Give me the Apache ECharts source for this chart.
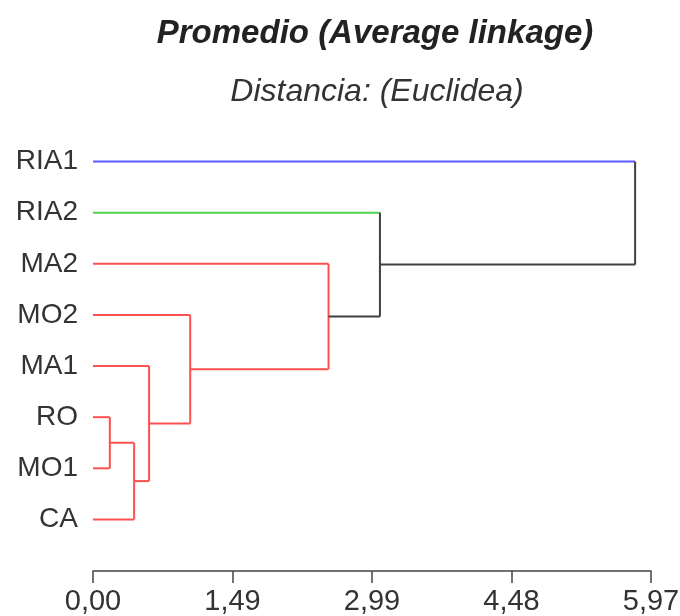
<!DOCTYPE html>
<html>
<head>
<meta charset="utf-8">
<script src="https://cdn.jsdelivr.net/npm/echarts@6/dist/echarts.min.js"></script>
<style>
  html, body { margin: 0; padding: 0; background: #fff; }
  #chart { width: 680px; height: 616px; }
</style>
</head>
<body>
<div id="chart"></div>
<script>
// hojas del dendrograma (de arriba a abajo)
var leaves = ['RIA1', 'RIA2', 'MA2', 'MO2', 'MA1', 'RO', 'MO1', 'CA']
var leafColors = ['#5a5aff', '#4cd44c', '#ff5050', '#ff5050', '#ff5050', '#ff5050', '#ff5050', '#ff5050']
// uniones: [hijo A, hijo B] (ids: hojas 0-7, uniones 8...)
var mergeChildren = [[5, 6], [8, 7], [4, 9], [3, 10], [2, 11], [1, 12], [0, 13]]
var mergeHeights = [0.18, 0.44, 0.60, 1.04, 2.52, 3.07, 5.80]
var mergeColors = ['#ff5050', '#ff5050', '#ff5050', '#ff5050', '#ff5050', '#404040', '#404040']
var xTickLabels = ['0,00', '1,49', '2,99', '4,48', '5,97']
var xMax = 5.97

var chart = echarts.init(document.getElementById('chart'))
var nLeaves = leaves.length

function nodeY(id, api) {
  if (id < nLeaves) return api.coord([0, id])[1]
  var ch = mergeChildren[id - nLeaves]
  return (nodeY(ch[0], api) + nodeY(ch[1], api)) / 2
}
function nodeH(id) {
  return id < nLeaves ? 0 : mergeHeights[id - nLeaves]
}

chart.setOption({
  backgroundColor: '#fff',
  animation: false,
  title: [
    {
      text: 'Promedio (Average linkage)',
      left: 370,
      top: 12,
      textAlign: 'center',
      textStyle: { fontFamily: 'Liberation Sans', fontSize: 33, fontWeight: 'bold', fontStyle: 'italic', color: '#222' }
    },
    {
      text: 'Distancia: (Euclidea)',
      left: 372,
      top: 71,
      textAlign: 'center',
      textStyle: { fontFamily: 'Liberation Sans', fontSize: 32, fontWeight: 'normal', fontStyle: 'italic', color: '#333' }
    }
  ],
  grid: { left: 93, right: 29, top: 136, bottom: 71, outerBoundsMode: 'none', containLabel: false },
  xAxis: {
    type: 'value',
    min: 0,
    max: xMax,
    interval: xMax / 4,
    offset: 26,
    splitLine: { show: false },
    axisLine: { show: true, lineStyle: { color: '#444', width: 1.5 } },
    axisTick: { show: true, length: 12, lineStyle: { color: '#444', width: 1.5 } },
    axisLabel: {
      margin: 16,
      fontFamily: 'Liberation Sans',
      fontSize: 29,
      color: '#333',
      showMaxLabel: true,
      formatter: function (v) { return xTickLabels[Math.round(v / (xMax / 4))] }
    }
  },
  yAxis: {
    type: 'category',
    inverse: true,
    data: leaves,
    axisLine: { show: false },
    axisTick: { show: false },
    splitLine: { show: false },
    axisLabel: { margin: 15, fontFamily: 'Liberation Sans', fontSize: 28, color: '#333' }
  },
  series: [{
    type: 'custom',
    data: mergeHeights.map(function (h, i) { return [h, i] }),
    renderItem: function (params, api) {
      var i = params.dataIndex
      var ch = mergeChildren[i]
      var xh = api.coord([mergeHeights[i], 0])[0]
      var ya = nodeY(ch[0], api)
      var yb = nodeY(ch[1], api)
      var kids = ch.map(function (c, k) {
        var x0 = api.coord([nodeH(c), 0])[0]
        var y = k === 0 ? ya : yb
        var col = c < nLeaves ? leafColors[c] : mergeColors[i]
        return {
          type: 'line',
          shape: { x1: x0, y1: y, x2: xh, y2: y },
          style: { stroke: col, lineWidth: 2 }
        }
      })
      kids.push({
        type: 'line',
        shape: { x1: xh, y1: ya, x2: xh, y2: yb },
        style: { stroke: mergeColors[i], lineWidth: 2 }
      })
      return { type: 'group', children: kids }
    }
  }]
})
</script>
</body>
</html>
